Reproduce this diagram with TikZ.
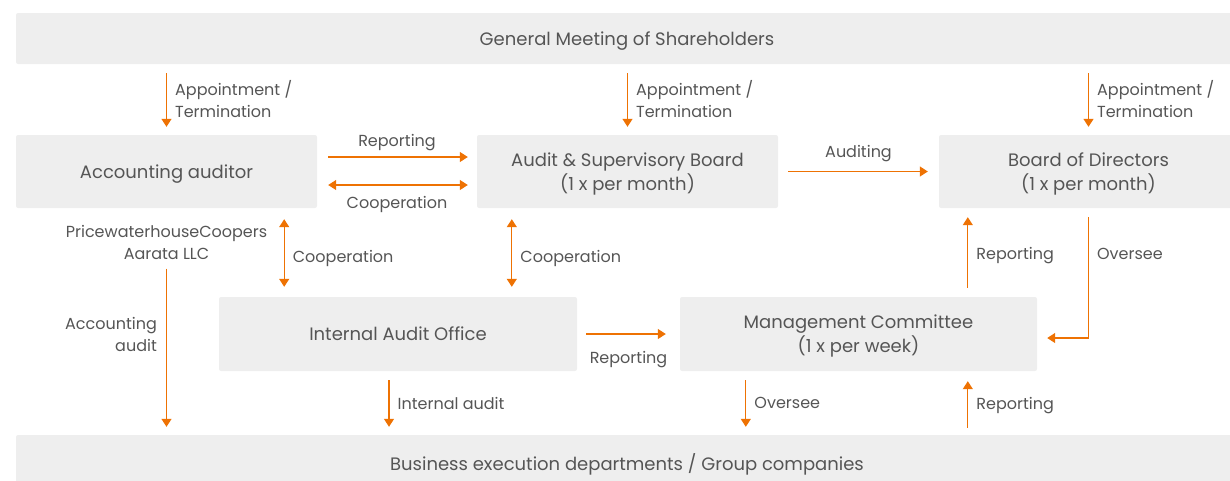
\documentclass[tikz,border=0pt]{standalone}
\usepackage{fontspec}
\setmainfont{Poppins}
\usepackage{tikz}
\usetikzlibrary{positioning, arrows.meta, calc}
\definecolor{boxgray}{HTML}{EEEEEE}
\definecolor{arrorange}{HTML}{EE7203}
\definecolor{txtgray}{HTML}{555555}

\begin{document}
\begin{tikzpicture}[x=1pt,y=-1pt, font=\fontsize{18}{24}\selectfont,
	box/.style={fill=boxgray, rounded corners=2pt, text=txtgray, align=center, inner sep=0pt, text depth=-5pt},
	flow/.style={draw=arrorange, line width=1.3pt, -{Triangle[length=8pt,width=10pt]}},
	both/.style={flow, {Triangle[length=8pt,width=10pt]}-{Triangle[length=8pt,width=10pt]}},
	lbl/.style={text=txtgray, inner sep=0pt, align=left, font=\fontsize{16}{22}\selectfont}]
	\useasboundingbox (0,0) rectangle (1230,480);
	
	% Boxes
	\node[box, minimum width=1222pt, minimum height=51pt] (gms) at (627,38.5) {General Meeting of Shareholders};
	\node[box, minimum width=301pt, minimum height=73pt] (aud) at (166.5,171.5) {Accounting auditor};
	\node[box, minimum width=301pt, minimum height=73pt] (asb) at (627.5,171.5) {Audit \& Supervisory Board\\(1 x per month)};
	\node[box, minimum width=299pt, minimum height=73pt] (bod) at (1088.5,171.5) {Board of Directors\\(1 x per month)};
	\node[box, minimum width=358pt, minimum height=74pt] (iao) at (398,334) {Internal Audit Office};
	\node[box, minimum width=357pt, minimum height=74pt] (mgc) at (858.5,334) {Management Committee\\(1 x per week)};
	\node[box, minimum width=1222pt, minimum height=55pt] (bex) at (627,462.5) {Business execution departments / Group companies};
	\node[lbl, align=center] (pwc) at ([yshift=-34pt]aud.south) {PricewaterhouseCoopers\\Aarata LLC};
	
	% Appointment / Termination
	\foreach \n in {aud, asb, bod}
		\draw[flow, shorten <=9pt, shorten >=8pt] (gms.south -| \n.north) -- (\n.north)
			node[lbl, midway, right=8pt] {Appointment /\\Termination};
	
	% auditor <-> board
	\draw[flow, shorten <=11pt, shorten >=9pt] ([yshift=14.5pt]aud.east) -- ([yshift=14.5pt]aud.east -| asb.west)
		node[lbl, midway, above=6pt] {Reporting};
	\draw[both, shorten <=11pt, shorten >=9pt] ([yshift=-13.5pt]aud.east) -- ([yshift=-13.5pt]aud.east -| asb.west)
		node[lbl, midway, below=11pt] {Cooperation};
	\draw[flow, shorten <=10pt, shorten >=11pt] (asb.east) -- (bod.west)
		node[lbl, midway, above=9pt] {Auditing};
	
	% Cooperation with internal audit
	\draw[both, shorten <=11pt, shorten >=10pt] ([xshift=-33pt]aud.south east) -- ([xshift=-33pt]aud.south east |- iao.north)
		node[lbl, pos=0.57, right=8pt] {Cooperation};
	\draw[both, shorten <=11pt, shorten >=10pt] ([xshift=35pt]asb.south west) -- ([xshift=35pt]asb.south west |- iao.north)
		node[lbl, pos=0.57, right=8pt] {Cooperation};
	
	% Accounting audit
	\draw[flow, shorten <=9pt, shorten >=8pt] (pwc.south) -- (pwc.south |- bex.north)
		node[lbl, pos=0.43, left=9pt, align=right] {Accounting\\audit};
	
	% Internal audit office -> management
	\draw[flow, shorten <=9pt, shorten >=14pt] (iao.east) -- (mgc.west)
		node[lbl, midway, below=17pt] {Reporting};
	
	% Management <-> directors
	\draw[flow, shorten <=9pt, shorten >=9pt] ([xshift=29pt]bod.south west |- mgc.north) -- ([xshift=29pt]bod.south west)
		node[lbl, pos=0.47, right=8pt] {Reporting};
	\draw[flow, shorten <=9pt, shorten >=10pt] (bod.south) |- ([yshift=-4pt]mgc.east)
		node[lbl, pos=0.175, right=8pt] {Oversee};
	
	% Business execution
	\draw[flow, shorten <=9pt, shorten >=8pt] ([xshift=-9pt]iao.south) -- ([xshift=-9pt]iao.south |- bex.north)
		node[lbl, midway, right=8pt] {Internal audit};
	\draw[flow, shorten <=9pt, shorten >=8pt] ([xshift=66pt]mgc.south west) -- ([xshift=66pt]mgc.south west |- bex.north)
		node[lbl, midway, right=8pt] {Oversee};
	\draw[flow, shorten <=7pt, shorten >=10pt] ([xshift=29pt]bod.south west |- bex.north) -- ([xshift=29pt]bod.south west |- mgc.south)
		node[lbl, pos=0.46, right=8pt] {Reporting};
\end{tikzpicture}
\end{document}
